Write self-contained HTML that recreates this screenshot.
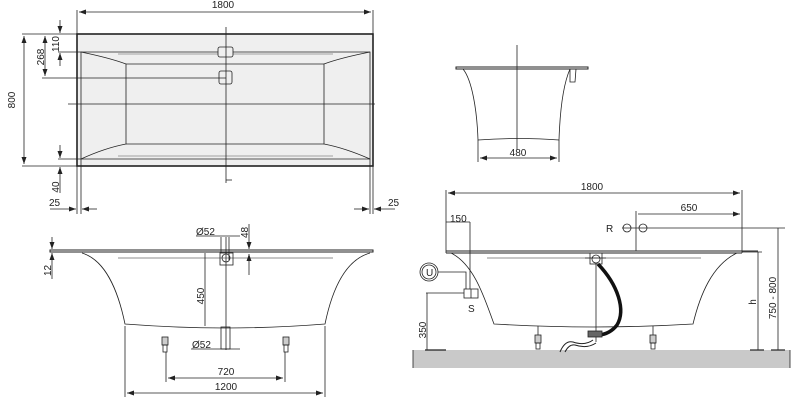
<!DOCTYPE html>
<html><head><meta charset="utf-8"><style>
html,body{margin:0;padding:0;background:#fff;}
svg{display:block;}
text{font-family:"Liberation Sans",sans-serif;font-size:10px;fill:#222;}
</style></head><body>
<svg width="800" height="403" viewBox="0 0 800 403" xmlns="http://www.w3.org/2000/svg">
<defs>
<marker id="a" markerWidth="8" markerHeight="6" refX="7" refY="3" orient="auto-start-reverse" markerUnits="userSpaceOnUse"><path d="M0,0.5 L7,3 L0,5.5" fill="#222"/></marker>
</defs>
<g stroke="#222" fill="none" stroke-width="0.8">
<rect x="77" y="34" width="296" height="132" fill="#efefef" stroke-width="1.6"/>
<path d="M81,52 H370 V159 H81 Z" stroke-width="0.8"/>
<path d="M81,52 Q110,58 126,64 V144 Q105,148 81,159" />
<path d="M370,52 Q340,58 324,64 V144 Q345,148 370,159"/>
<path d="M126,64 H324 M126,144 H324"/>
<path d="M118,54 H333 M118,156 H333" stroke="#888"/>
<rect x="218" y="47" width="15" height="10" rx="2" fill="#efefef"/>
<rect x="219" y="71" width="13" height="13" rx="2" fill="#efefef"/>
<line x1="226" y1="27" x2="226" y2="183"/>
<path d="M226,180 H232"/>
<line x1="68" y1="104" x2="375" y2="104"/>
<line x1="77" y1="10" x2="77" y2="34"/><line x1="373" y1="10" x2="373" y2="34"/>
<line x1="79" y1="12" x2="371" y2="12" marker-start="url(#a)" marker-end="url(#a)"/>
<line x1="22" y1="34" x2="77" y2="34"/><line x1="22" y1="166" x2="77" y2="166"/>
<line x1="24" y1="36" x2="24" y2="164" marker-start="url(#a)" marker-end="url(#a)"/>
<line x1="42" y1="78" x2="226" y2="78"/>
<line x1="45" y1="36" x2="45" y2="76" marker-start="url(#a)" marker-end="url(#a)"/>
<line x1="58" y1="52" x2="81" y2="52"/>
<line x1="60" y1="20" x2="60" y2="33" marker-end="url(#a)"/>
<line x1="60" y1="66" x2="60" y2="53" marker-end="url(#a)"/>
<line x1="58" y1="159" x2="81" y2="159"/>
<line x1="60" y1="145" x2="60" y2="158" marker-end="url(#a)"/>
<line x1="60" y1="193" x2="60" y2="167" marker-end="url(#a)"/>
<line x1="77" y1="166" x2="77" y2="214"/><line x1="81" y1="159" x2="81" y2="214"/>
<line x1="370" y1="159" x2="370" y2="214"/><line x1="373" y1="166" x2="373" y2="214"/>
<line x1="50" y1="209" x2="76" y2="209" marker-end="url(#a)"/>
<line x1="97" y1="209" x2="82" y2="209" marker-end="url(#a)"/>
<line x1="354" y1="209" x2="369" y2="209" marker-end="url(#a)"/>
<line x1="395" y1="209" x2="374" y2="209" marker-end="url(#a)"/>

<path d="M50,250 H373 V252 H50 Z" stroke-width="1"/>
<path d="M82,253 C105,260 118,290 125,324 Q226,332 325,324 C332,290 345,260 370,253"/>
<path d="M118,258 H333" stroke="#666"/>
<rect x="220" y="253" width="13" height="12"/>
<circle cx="226" cy="258" r="4"/>
<line x1="226" y1="237" x2="226" y2="350"/><line x1="229" y1="237" x2="229" y2="260"/>
<line x1="221" y1="237" x2="221" y2="253"/>
<rect x="221" y="327" width="9" height="22"/>
<line x1="196" y1="236" x2="240" y2="236"/>
<line x1="191" y1="349" x2="240" y2="349"/>
<line x1="249" y1="224" x2="249" y2="249" marker-end="url(#a)"/>
<line x1="249" y1="275" x2="249" y2="254" marker-end="url(#a)"/>
<line x1="235" y1="252" x2="250" y2="252"/>
<line x1="52" y1="237" x2="52" y2="249" marker-end="url(#a)"/>
<line x1="52" y1="279" x2="52" y2="253" marker-end="url(#a)"/>
<line x1="205" y1="253" x2="205" y2="326"/>
<rect x="162" y="337" width="6" height="8" fill="#ccc"/><rect x="163" y="345" width="4" height="7"/>
<rect x="283" y="337" width="6" height="8" fill="#ccc"/><rect x="284" y="345" width="4" height="7"/>
<line x1="166" y1="352" x2="166" y2="382"/><line x1="285" y1="352" x2="285" y2="382"/>
<line x1="168" y1="378" x2="283" y2="378" marker-start="url(#a)" marker-end="url(#a)"/>
<line x1="125" y1="326" x2="125" y2="397"/><line x1="325" y1="326" x2="325" y2="397"/>
<line x1="127" y1="393" x2="323" y2="393" marker-start="url(#a)" marker-end="url(#a)"/>

<path d="M456,67 H588 V69 H456 Z" stroke-width="1"/>
<path d="M463,69 C472,80 477,110 478,140 Q520,137 559,140 C560,110 563,85 570,69"/>
<path d="M570,69 V82 H575 L576,69"/>
<line x1="517" y1="45" x2="517" y2="150"/>
<line x1="478" y1="140" x2="478" y2="162"/><line x1="559" y1="140" x2="559" y2="162"/>
<line x1="480" y1="158" x2="557" y2="158" marker-start="url(#a)" marker-end="url(#a)"/>

<rect x="413" y="350" width="377" height="18" fill="#c9c9c9" stroke="none"/>
<line x1="413" y1="350" x2="413" y2="368"/><line x1="790" y1="350" x2="790" y2="368"/>
<path d="M446,251 H758 M446,253 H742" stroke-width="1"/>
<line x1="446" y1="190" x2="446" y2="253"/><line x1="742" y1="190" x2="742" y2="253"/>
<line x1="448" y1="193" x2="740" y2="193" marker-start="url(#a)" marker-end="url(#a)"/>
<line x1="636" y1="211" x2="636" y2="251"/>
<line x1="638" y1="214" x2="740" y2="214" marker-end="url(#a)"/>
<line x1="446" y1="222" x2="470" y2="222"/>
<line x1="470" y1="222" x2="470" y2="298"/>
<path d="M451,253 C475,265 485,300 494,324 Q594,330 693,324 C700,295 712,265 737,253"/>
<path d="M487,258 H701" stroke="#666"/>
<circle cx="627" cy="228" r="4"/><circle cx="643" cy="228" r="4"/>
<line x1="622" y1="228" x2="785" y2="228"/>
<rect x="590" y="253" width="12" height="11"/>
<circle cx="596" cy="259" r="4"/>
<line x1="596" y1="263" x2="596" y2="342"/><line x1="585" y1="258" x2="606" y2="258"/>
<path d="M598,264 C618,285 626,310 617,325 Q610,334 599,335" stroke="#111" stroke-width="3.5"/>
<rect x="588" y="331" width="14" height="6" fill="#666"/>
<path d="M560,352 Q565,340 573,342 Q585,346 593,340" stroke-width="1"/>
<path d="M565,352 Q569,344 575,345 Q587,349 596,343" stroke-width="1"/>
<rect x="535" y="335" width="6" height="8" fill="#ccc"/><rect x="536" y="343" width="4" height="6"/>
<rect x="650" y="335" width="6" height="8" fill="#ccc"/><rect x="651" y="343" width="4" height="6"/>
<line x1="538" y1="326" x2="538" y2="335"/><line x1="653" y1="326" x2="653" y2="335"/>
<circle cx="429" cy="272" r="9"/><circle cx="429" cy="272" r="7"/>
<path d="M438,272 H466 V289"/>
<rect x="464" y="289" width="14" height="9" fill="#fff"/><line x1="471" y1="289" x2="471" y2="298"/>
<line x1="426" y1="293" x2="464" y2="293"/>
<line x1="427" y1="293" x2="427" y2="350"/>
<line x1="425" y1="350" x2="446" y2="350" stroke-width="1.2"/>
<line x1="742" y1="252" x2="762" y2="252"/>
<line x1="758" y1="252" x2="758" y2="350"/>
<line x1="750" y1="350" x2="764" y2="350" stroke-width="1.2"/>
<line x1="778" y1="228" x2="778" y2="350"/>
<line x1="771" y1="350" x2="785" y2="350" stroke-width="1.2"/>
</g>
<g>
<text x="223" y="8" text-anchor="middle">1800</text>
<text transform="translate(15,100) rotate(-90)" text-anchor="middle">800</text>
<text transform="translate(44,57) rotate(-90)" text-anchor="middle">268</text>
<text transform="translate(59,44) rotate(-90)" text-anchor="middle">110</text>
<text transform="translate(59,187) rotate(-90)" text-anchor="middle">40</text>
<text x="49" y="206">25</text>
<text x="388" y="206">25</text>
<text x="196" y="235" font-size="9">Ø52</text>
<text x="192" y="348" font-size="9">Ø52</text>
<text transform="translate(248,238) rotate(-90)" font-size="9">48</text>
<text transform="translate(51,276) rotate(-90)">12</text>
<text transform="translate(204,296) rotate(-90)" text-anchor="middle">450</text>
<text x="226" y="375" text-anchor="middle">720</text>
<text x="226" y="390" text-anchor="middle">1200</text>
<text x="518" y="156" text-anchor="middle">480</text>
<text x="592" y="190" text-anchor="middle">1800</text>
<text x="689" y="211" text-anchor="middle">650</text>
<text x="450" y="222">150</text>
<text x="606" y="232" font-size="11">R</text>
<text x="426" y="276" font-size="8">U</text>
<text x="468" y="312" font-size="11">S</text>
<text transform="translate(426,330) rotate(-90)" text-anchor="middle" font-size="9">350</text>
<text transform="translate(756,302) rotate(-90)" text-anchor="middle" font-size="9">h</text>
<text transform="translate(776,298) rotate(-90)" text-anchor="middle" font-size="9">750 - 800</text>
</g>
</svg>
</body></html>
